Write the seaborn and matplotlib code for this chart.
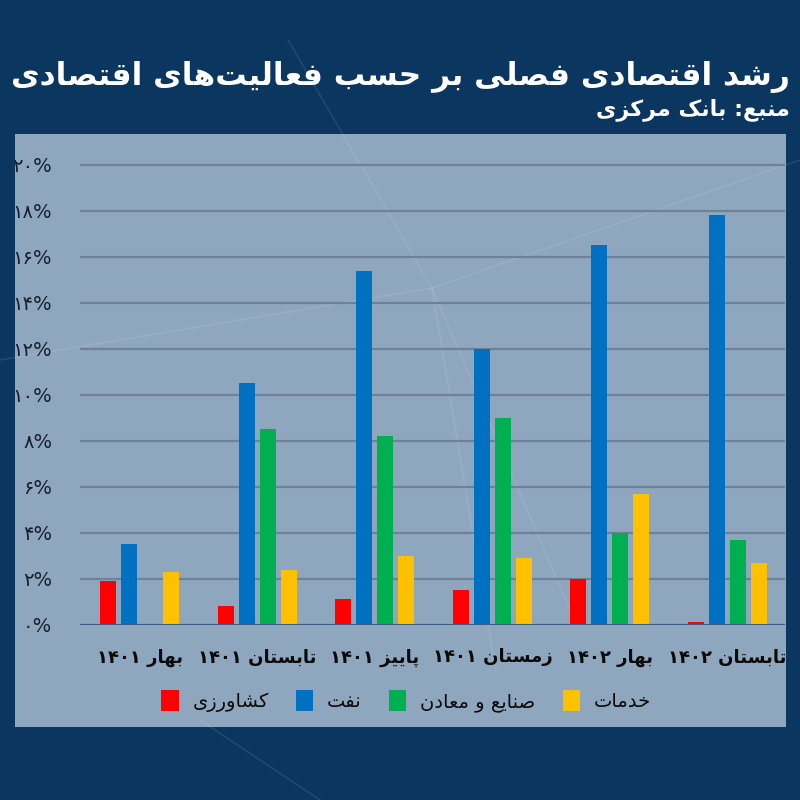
import re
import numpy as np
import pandas as pd
import matplotlib
matplotlib.use("Agg")
import matplotlib.pyplot as plt
from matplotlib.patches import Rectangle, Patch
from matplotlib.lines import Line2D
import seaborn as sns

# ---------------- data ----------------
categories = ["بهار ۱۴۰۱", "تابستان ۱۴۰۱", "پاییز ۱۴۰۱", "زمستان ۱۴۰۱", "بهار ۱۴۰۲", "تابستان ۱۴۰۲"]
series_names = ["کشاورزی", "نفت", "صنایع و معادن", "خدمات"]
agriculture = [1.9, 0.8, 1.1, 1.5, 2.0, 0.1]
oil = [3.5, 10.5, 15.4, 12.0, 16.5, 17.8]
industry = [np.nan, 8.5, 8.2, 9.0, 4.0, 3.7]
services = [2.3, 2.4, 3.0, 2.9, 5.7, 2.7]
y_ticks = [0, 2, 4, 6, 8, 10, 12, 14, 16, 18, 20]
title = "رشد اقتصادی فصلی بر حسب فعالیت\u200cهای اقتصادی"
subtitle = "منبع: بانک مرکزی"

colors = ["#ff0000", "#0070c0", "#00b050", "#ffc000"]

# ---------------- simple Persian shaping ----------------
FORMS = {
    'ا': ('\uFE8D', '\uFE8E', None, None),
    'ب': ('\uFE8F', '\uFE90', '\uFE91', '\uFE92'),
    'پ': ('\uFB56', '\uFB57', '\uFB58', '\uFB59'),
    'ت': ('\uFE95', '\uFE96', '\uFE97', '\uFE98'),
    'ح': ('\uFEA1', '\uFEA2', '\uFEA3', '\uFEA4'),
    'خ': ('\uFEA5', '\uFEA6', '\uFEA7', '\uFEA8'),
    'د': ('\uFEA9', '\uFEAA', None, None),
    'ر': ('\uFEAD', '\uFEAE', None, None),
    'ز': ('\uFEAF', '\uFEB0', None, None),
    'س': ('\uFEB1', '\uFEB2', '\uFEB3', '\uFEB4'),
    'ش': ('\uFEB5', '\uFEB6', '\uFEB7', '\uFEB8'),
    'ص': ('\uFEB9', '\uFEBA', '\uFEBB', '\uFEBC'),
    'ع': ('\uFEC9', '\uFECA', '\uFECB', '\uFECC'),
    'ف': ('\uFED1', '\uFED2', '\uFED3', '\uFED4'),
    'ق': ('\uFED5', '\uFED6', '\uFED7', '\uFED8'),
    'ک': ('\uFB8E', '\uFB8F', '\uFB90', '\uFB91'),
    'ل': ('\uFEDD', '\uFEDE', '\uFEDF', '\uFEE0'),
    'م': ('\uFEE1', '\uFEE2', '\uFEE3', '\uFEE4'),
    'ن': ('\uFEE5', '\uFEE6', '\uFEE7', '\uFEE8'),
    'ه': ('\uFEE9', '\uFEEA', '\uFEEB', '\uFEEC'),
    'و': ('\uFEED', '\uFEEE', None, None),
    'ی': ('\uFBFC', '\uFBFD', '\uFBFE', '\uFBFF'),
}


def shape(s):
    out = []
    for i, c in enumerate(s):
        if c not in FORMS:
            out.append(c)
            continue
        prev = s[i - 1] if i > 0 else None
        nxt = s[i + 1] if i + 1 < len(s) else None
        jp = prev in FORMS and FORMS[prev][2] is not None
        jn = FORMS[c][2] is not None and nxt in FORMS
        iso, fin, ini, med = FORMS[c]
        if jp and jn:
            out.append(med)
        elif jp:
            out.append(fin)
        elif jn:
            out.append(ini)
        else:
            out.append(iso)
    return ''.join(out).replace('\u200c', '')


def fa(s):
    sh = shape(s)
    runs = re.findall(r'[\u06F0-\u06F90-9%.]+|[^\u06F0-\u06F90-9%.]+', sh)
    res = []
    for r in reversed(runs):
        if re.match(r'[\u06F0-\u06F90-9%.]', r):
            res.append(r)
        else:
            res.append(r[::-1])
    return ''.join(res)


def fa_digits(n):
    return ''.join(chr(0x06F0 + int(d)) for d in str(n))


# ---------------- dataframe ----------------
rows = []
for name, vals in zip(series_names, [agriculture, oil, industry, services]):
    for cat, v in zip(categories, vals):
        rows.append({"cat": cat, "series": name, "value": v})
df = pd.DataFrame(rows).dropna()

# ---------------- figure ----------------
sns.set_style("white")
plt.rcParams['font.family'] = ['DejaVu Sans']
COND = ['DejaVu Sans Condensed', 'DejaVu Sans']

BG = "#0b3660"
PANEL = "#8fa6bf"
fig = plt.figure(figsize=(8, 8), dpi=100, facecolor=BG)

# light panel
fig.patches.append(Rectangle((15 / 800, 1 - 727 / 800), 771 / 800, 593 / 800,
                             transform=fig.transFigure, facecolor=PANEL,
                             edgecolor="none", zorder=-5))
# faint decorative network lines
deco = [((0.0, 0.55), (0.54, 0.64)), ((0.54, 0.64), (0.72, 0.22)),
        ((0.54, 0.64), (0.62, 0.16)), ((0.54, 0.64), (0.36, 0.95)),
        ((0.54, 0.64), (1.0, 0.80)), ((0.25, 0.10), (0.40, 0.0))]
for (x0, y0), (x1, y1) in deco:
    fig.add_artist(Line2D([x0, x1], [y0, y1], transform=fig.transFigure,
                          color="white", alpha=0.09, lw=1.2, zorder=-4))

ax = fig.add_axes([80 / 800, 1 - 624.7 / 800, 705 / 800, 20.6 * 23 / 800])
ax.set_zorder(2)
ax.set_facecolor("none")

sns.barplot(data=df, x="cat", y="value", hue="series", order=categories,
            hue_order=series_names, palette=colors, width=0.715, gap=0.24,
            saturation=1, legend=False, ax=ax, zorder=3,
            edgecolor="none", linewidth=0)

ax.set_xlim(-0.51, 5.49)
ax.set_ylim(0, 20.6)
ax.set_yticks(y_ticks)
ax.set_yticklabels([fa_digits(t) + "%" for t in y_ticks], fontsize=14, color="#15202e")
ax.set_xticks(range(len(categories)))
ax.set_xticklabels([fa(c) for c in categories], fontsize=13, fontweight="bold",
                   color="#0a0a0a", family=COND)
ax.tick_params(axis="y", length=0, pad=20)
ax.tick_params(axis="x", length=0, pad=17)
ax.set_xlabel("")
ax.set_ylabel("")
for sp in ax.spines.values():
    sp.set_visible(False)
ax.yaxis.grid(True, color="#6d8299", lw=1.6)
ax.set_axisbelow(True)
ax.axhline(0, color="#3d5d86", lw=2.2, zorder=4)

# legend
handles = [Patch(facecolor=c, edgecolor="none") for c in colors]
leg = fig.legend(handles, [fa(n) for n in series_names], loc="center",
                 bbox_to_anchor=(406 / 800, 1 - 701 / 800), ncol=4, frameon=False,
                 fontsize=14, handlelength=0.9, handleheight=1.3, handletextpad=0.7,
                 columnspacing=1.4, labelcolor="#0a0a0a")
leg.set_zorder(5)

# titles
fig.text(790 / 800, 1 - 77 / 800, fa(title), ha="right", va="center",
         fontsize=22.5, fontweight="bold", color="white")
fig.text(790 / 800, 1 - 110 / 800, fa(subtitle), ha="right", va="center",
         fontsize=16, fontweight="bold", color="white")

fig.savefig("out.png", dpi=100, facecolor=BG)
